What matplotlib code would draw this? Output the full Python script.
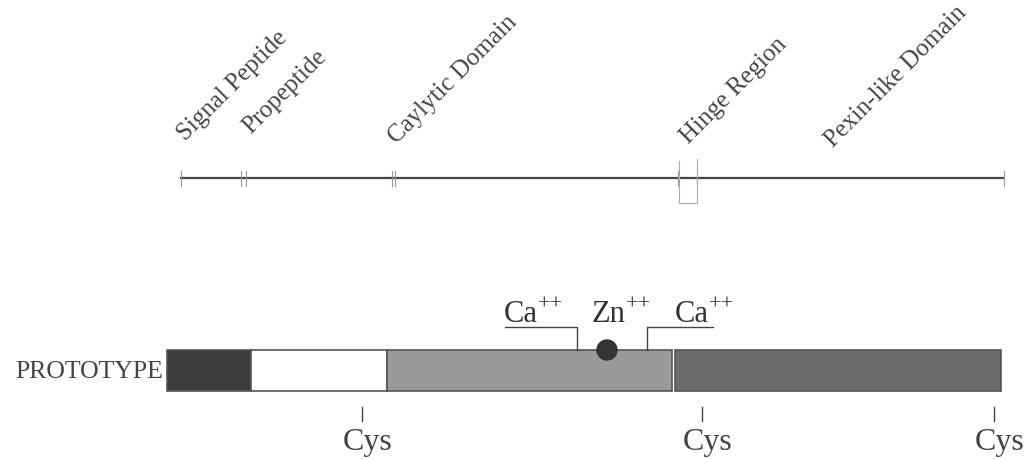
import matplotlib.pyplot as plt
from matplotlib.patches import Rectangle, Circle

plt.rcParams['font.family'] = ['Liberation Serif', 'DejaVu Serif']

# top map: domain boundaries along the sequence line
line_start, line_end = 181, 1004
tick_pos = [181, 241, 246, 392, 395, 678, 697, 1004]
hinge = (679, 697)
dom_labels = ['Signal Peptide', 'Propeptide', 'Caylytic Domain', 'Hinge Region', 'Pexin-like Domain']
label_x = [185, 251, 396, 688, 833]
label_y = [141, 134, 144, 144, 148]

# prototype bar segments
seg_start = [167, 251, 387, 675]
seg_end = [251, 387, 672, 1001]
seg_col = ['#3c3c3c', '#ffffff', '#9a9a9a', '#6c6c6c']

cys_pos = [362, 702, 994]
ca_pos = [577, 647]
zn_pos = 607
ions = ['Ca', 'Zn', 'Ca']
ion_x = [504, 592, 675]

fig = plt.figure(figsize=(10.28, 4.59), dpi=100)
ax = fig.add_axes([0, 0, 1, 1])
ax.set_xlim(0, 1028)
ax.set_ylim(459, 0)
ax.axis('off')

# sequence line
ax.plot([line_start, line_end], [178, 178], color='#444444', lw=1.6)
for t in tick_pos:
    ax.plot([t, t], [171, 186], color='#999999', lw=0.8)
ax.plot([hinge[0], hinge[0], hinge[1], hinge[1]], [161, 203, 203, 159], color='#aaaaaa', lw=0.8)

for lab, x, y in zip(dom_labels, label_x, label_y):
    ax.text(x, y, lab, rotation=45, rotation_mode='anchor', ha='left', va='baseline',
            fontsize=18, color='#444444')

# prototype bar
for s, e, c in zip(seg_start, seg_end, seg_col):
    ax.add_patch(Rectangle((s, 350), e - s, 41, facecolor=c, edgecolor='#555555', lw=1.2))

ax.text(163, 372, 'PROTOTYPE', ha='right', va='center', fontsize=18.5, color='#444444')

# metal binding sites
ax.plot([505, ca_pos[0], ca_pos[0]], [327, 327, 350], color='#444444', lw=1)
ax.plot([713, ca_pos[1], ca_pos[1]], [327, 327, 350], color='#444444', lw=1)
ax.add_patch(Circle((zn_pos, 350), 10, color='#333333', zorder=5))
for name, x in zip(ions, ion_x):
    t = ax.text(x, 322, name, ha='left', va='baseline', fontsize=22, color='#333333')
    ax.annotate('++', xy=(1, 1), xycoords=t, xytext=(0, 3), textcoords='offset points',
                ha='left', va='top', fontsize=16, color='#333333')

# cysteines
for c in cys_pos:
    ax.plot([c, c], [407, 421], color='#444444', lw=1)
    ax.text(c + 6, 450, 'Cys', ha='center', va='baseline', fontsize=23, color='#444444')

fig.savefig('out.png', dpi=100)
